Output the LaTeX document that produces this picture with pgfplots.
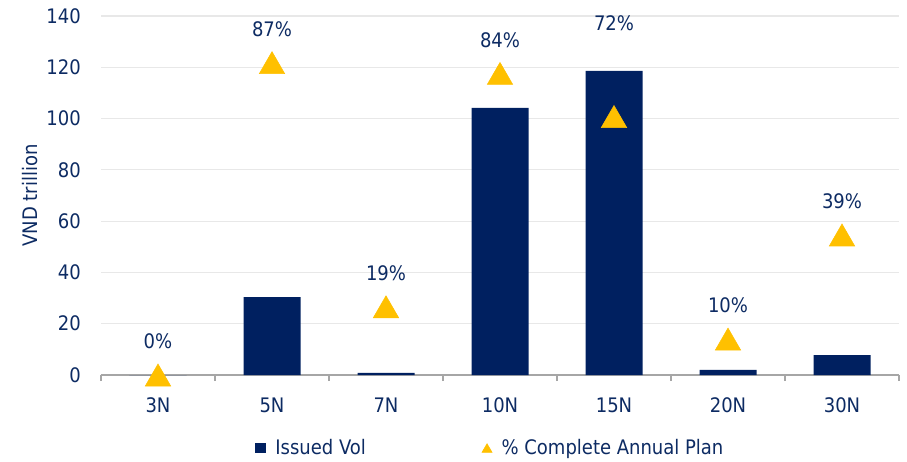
\documentclass[border=0pt]{standalone}
\usepackage{pgfplots}
\pgfplotsset{compat=1.18}
\usepackage{fontspec}
\setmainfont{DejaVu Sans Condensed}
\definecolor{navy}{HTML}{002060}
\definecolor{gold}{HTML}{FFC000}
\definecolor{txt}{HTML}{0D2B63}
\definecolor{gridc}{HTML}{E8E8E8}
\definecolor{axc}{HTML}{A6A6A6}
\begin{document}
\begin{tikzpicture}[font=\fontsize{15}{18}\selectfont]
\begin{axis}[
  scale only axis, width=598.5pt, height=269.25pt,
  xmin=-0.5, xmax=6.5, ymin=0, ymax=140,
  xtick={0,...,6}, xticklabels={3N,5N,7N,10N,15N,20N,30N},
  minor xtick={-0.5,0.5,...,6.5},
  ytick={0,20,...,140},
  axis x line=bottom, axis y line=left,
  axis line style={-},
  x axis line style={axc, line width=0.8pt},
  y axis line style={draw=none},
  major tick length=0pt, minor tick length=4.5pt, tick align=outside,
  minor tick style={axc, line width=0.8pt},
  ymajorgrids, grid style={gridc, line width=0.8pt},
  tick label style={text=txt, font=\fontsize{15}{18}\selectfont},
  /pgf/number format/assume math mode=true,
  yticklabel style={anchor=east, inner sep=0pt, xshift=-15pt},
  xticklabel style={anchor=center, inner sep=0pt, yshift=-22.5pt},
  every axis y label/.style={at={(axis description cs:-0.0886,0.5)}, rotate=90, anchor=center, text=txt},
  ylabel={VND trillion},
  legend columns=2,
  legend style={draw=none, fill=none, at={(0.193,-0.2033)}, anchor=west, text=txt,
    inner sep=0pt, outer sep=0pt,
    font=\fontsize{15}{18}\selectfont,
    /tikz/every odd column/.append style={column sep=5pt},
    /tikz/every even column/.append style={column sep=85pt}},
  clip=false,
]
\addplot[ybar, fill=navy, draw=none, bar width=0.5,
  legend image code/.code={\fill[navy] (0pt,-4.1pt) rectangle (8.25pt,4.1pt);}]
  coordinates {(0,0) (1,30.4) (2,0.8) (3,104.2) (4,118.6) (5,2) (6,7.8)};
\addlegendentry{Issued Vol}
\addlegendimage{legend image code/.code={\fill[gold] (0pt,-3.2pt) -- (7.5pt,-3.2pt) -- (3.75pt,3.2pt) -- cycle;}}
\addlegendentry{\% Complete Annual Plan}
\end{axis}
\begin{axis}[
  scale only axis, width=598.5pt, height=269.25pt,
  xmin=-0.5, xmax=6.5, ymin=0, ymax=1.0,
  hide axis, clip=false,
]
\addplot[only marks, mark=triangle*, mark size=11pt, color=gold,
  mark options={yshift=-2.75pt},
  point meta=explicit symbolic,
  nodes near coords,
  every node near coord/.style={anchor=center, yshift=28pt, text=txt, font=\fontsize{15}{18}\selectfont}]
  coordinates {(0,0) [0\%] (1,0.87) [87\%] (2,0.19) [19\%] (3,0.84) [84\%] (4,0.72) [] (5,0.10) [10\%] (6,0.39) [39\%]};
\addplot[only marks, mark=none,
  point meta=explicit symbolic,
  nodes near coords,
  every node near coord/.style={anchor=center, yshift=70pt, text=txt, font=\fontsize{15}{18}\selectfont}]
  coordinates {(4,0.72) [72\%]};
\end{axis}
\pgfresetboundingbox
\useasboundingbox (-75.75pt,-64.5pt) rectangle (604.5pt,281.25pt);
\end{tikzpicture}
\end{document}
